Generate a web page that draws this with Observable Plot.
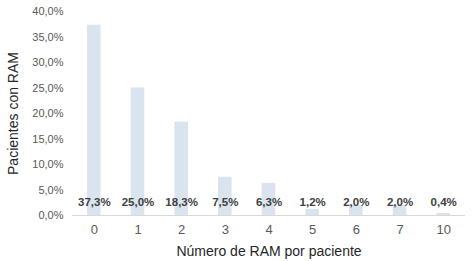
<!DOCTYPE html>
<html>
<head>
<meta charset="utf-8">
<script src="https://cdn.jsdelivr.net/npm/d3@7"></script>
<script src="https://cdn.jsdelivr.net/npm/@observablehq/plot@0.6"></script>
<style>
  html, body { margin: 0; padding: 0; background: #fff; }
  svg { font-family: "Liberation Sans", Arial, sans-serif; }
  g[aria-label="x-axis label"], g[aria-label="x-axis label"] text,
  g[aria-label="y-axis label"], g[aria-label="y-axis label"] text { font-size: 14px; fill: #262626; }
</style>
</head>
<body>
<div id="chart"></div>
<script>
const categories = ["0", "1", "2", "3", "4", "5", "6", "7", "10"];
const values = [37.3, 25.0, 18.3, 7.5, 6.3, 1.2, 2.0, 2.0, 0.4];
const yTicks = [0, 5, 10, 15, 20, 25, 30, 35, 40];

const data = categories.map((c, i) => ({cat: c, value: values[i]}));
const fmt = v => v.toFixed(1).replace(".", ",") + "%";

const chart = Plot.plot({
  width: 474,
  height: 261,
  marginLeft: 72,
  marginRight: 9,
  marginTop: 11,
  marginBottom: 46,
  style: {fontFamily: "'Liberation Sans', Arial, sans-serif", background: "#fff"},
  x: {domain: categories, paddingInner: 0.69, paddingOuter: 0.345, round: false, label: null},
  y: {domain: [0, 40], label: null},
  marks: [
    Plot.barY(data, {x: "cat", y: "value", fill: "#d9e4ef"}),
    Plot.ruleY([0], {stroke: "#d9d9d9", strokeWidth: 1}),
    Plot.text(data, {x: "cat", text: d => fmt(d.value), frameAnchor: "bottom", dy: -10,
      fontWeight: "bold", fontSize: 11.5, fill: "#404040"}),
    Plot.axisY({ticks: yTicks, tickFormat: fmt, tickSize: 0, tickPadding: 9, fontSize: 11,
      color: "#595959", label: "Pacientes con RAM", labelAnchor: "center", labelArrow: "none", labelOffset: 64}),
    Plot.axisX({tickSize: 0, tickPadding: 9, fontSize: 13, color: "#595959",
      label: "Número de RAM por paciente", labelAnchor: "center", labelArrow: "none", labelOffset: 40})
  ]
});
document.getElementById("chart").appendChild(chart);
</script>
</body>
</html>
